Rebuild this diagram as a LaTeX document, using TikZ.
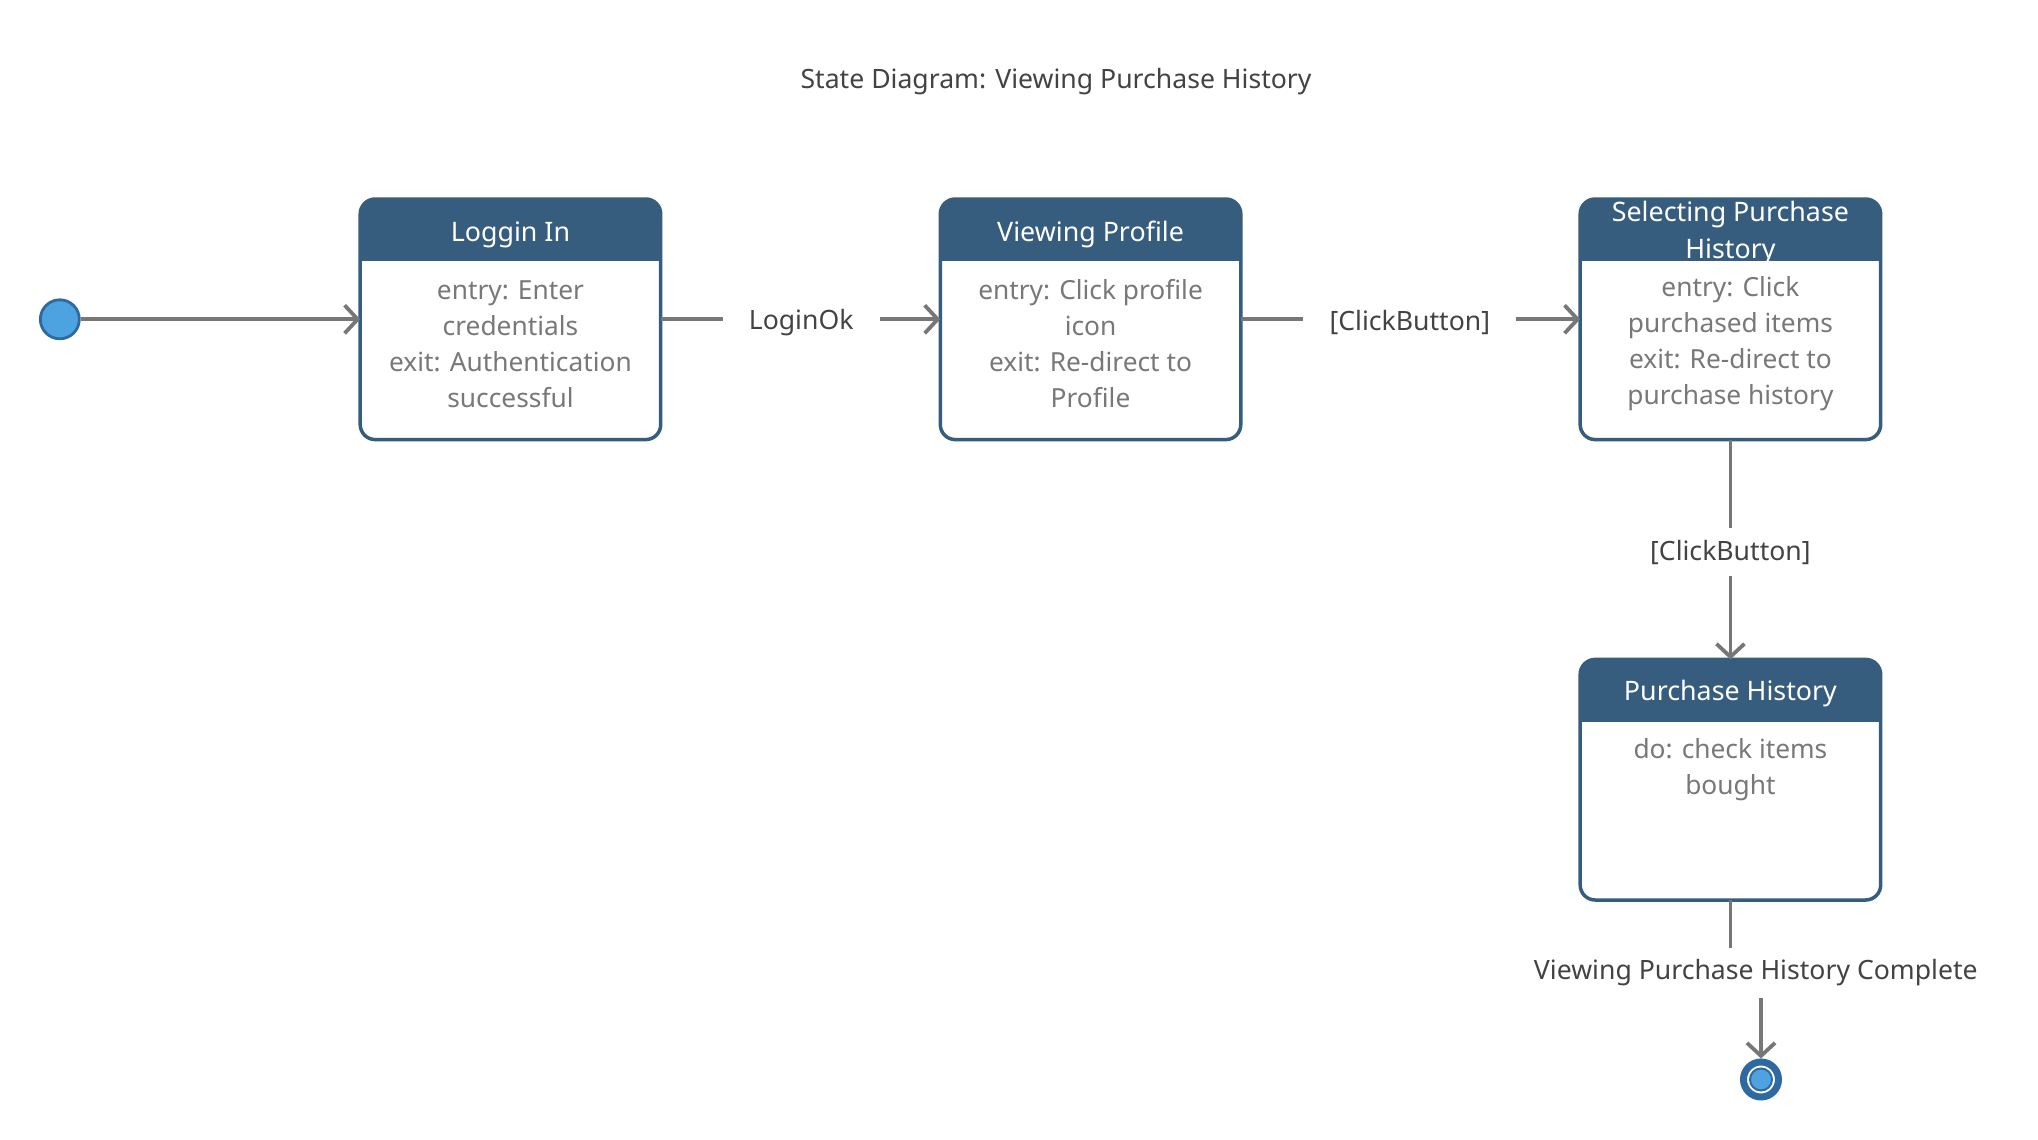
\documentclass[tikz,border=0pt]{standalone}
\usepackage{fontspec}
\setmainfont{Noto Sans}
\usetikzlibrary{arrows.meta,calc}
\definecolor{hdr}{HTML}{365D7E}
\definecolor{bodytxt}{HTML}{787878}
\definecolor{lbltxt}{HTML}{434343}
\definecolor{conncol}{HTML}{777777}
\definecolor{dotfill}{HTML}{4DA3E0}
\definecolor{dotedge}{HTML}{2E6AA1}
\begin{document}
\begin{tikzpicture}[x=1.3006pt,y=-1.3006pt,
  stbox/.style={draw=hdr,line width=3.5pt,rounded corners=15pt,minimum width=300.5pt,minimum height=240.6pt,inner sep=0pt,outer sep=0pt},
  hdrtext/.style={text=white,font=\fontsize{26.8}{36.5}\selectfont,align=center,inner sep=0pt},
  bodytext/.style={text=bodytxt,font=\fontsize{26.3}{36}\selectfont,align=center,inner sep=0pt},
  lbl/.style={text=lbltxt,font=\fontsize{26.6}{32}\selectfont,inner xsep=26pt,inner ysep=0pt},
  conn/.style={draw=conncol,line width=3.8pt},
  arr/.style={conn,-{Straight Barb[length=13pt,width=28pt,line width=3.8pt]}},
  initst/.style={circle,draw=dotedge,fill=dotfill,line width=2.8pt,minimum size=39pt,inner sep=0pt},
  finst/.style={circle,draw=dotedge,fill=white,line width=7pt,minimum size=35pt,inner sep=0pt,outer sep=3.5pt}
]
\useasboundingbox[fill=white] (0,0) rectangle (1567,876.5);

% title
\node[text=lbltxt,font=\fontsize{26.6}{30}\selectfont] (title) at (812,62.5) {State Diagram: Viewing Purchase History};

% states
\node[stbox] (b1) at (392.5,245.5) {};
\node[stbox] (b2) at (838.5,245.5) {};
\node[stbox] (b3) at (1330.5,245.5) {};
\node[stbox] (b4) at (1330.5,599.5) {};
\foreach \b in {b1,b2,b3,b4}{
  \begin{scope}
    \clip[rounded corners=15pt] (\b.north west) rectangle (\b.south east);
    \fill[hdr] (\b.north west) rectangle ($(\b.north east)+(0,48)$);
  \end{scope}
}

\node[hdrtext] (b1h) at ($(b1.north)+(0,27.5)$) {Loggin In};
\node[hdrtext] (b2h) at ($(b2.north)+(0,27.5)$) {Viewing Profile};
\node[hdrtext] (b3h) at ($(b3.north)+(0,26)$) {Selecting Purchase\\History};
\node[hdrtext] (b4h) at ($(b4.north)+(0,26.5)$) {Purchase History};

\node[bodytext] (b1t) at (392.5,264.5) {entry: Enter\\credentials\\exit: Authentication\\successful};
\node[bodytext] (b2t) at (838.5,264.5) {entry: Click profile\\icon\\exit: Re-direct to\\Profile};
\node[bodytext] (b3t) at (1330.5,264.5) {entry: Click\\purchased items\\exit: Re-direct to\\purchase history};
\node[bodytext] (b4t) at (1330.5,592) {do: check items\\bought};

% initial and final
\node[initst] (init) at (46,245.5) {};
\node[finst] (fin) at (1354,830) {};
\fill[dotfill,draw=dotedge,line width=2pt] (fin.center) circle (11pt);

% transitions
\draw[arr] (init) -- (b1.west);

\node[lbl] (l1) at (616,248) {LoginOk};
\draw[conn] (b1.east) -- (b1.east -| l1.west);
\draw[arr] (l1.east |- b2.west) -- (b2.west);

\node[lbl] (l2) at (1084,248) {[ClickButton]};
\draw[conn] (b2.east) -- (b2.east -| l2.west);
\draw[arr] (l2.east |- b3.west) -- (b3.west);

\node[lbl,minimum height=47pt] (l3) at (1330.5,424.5) {[ClickButton]};
\draw[conn] (b3.south) -- (l3.north);
\draw[arr] (l3.south) -- (b4.north);

\node[lbl,minimum height=50pt] (l4) at (1350,748) {Viewing Purchase History Complete};
\draw[conn] (b4.south) -- (b4.south |- l4.north);
\draw[arr] (l4.south -| fin) -- (fin.north);
\end{tikzpicture}
\end{document}
